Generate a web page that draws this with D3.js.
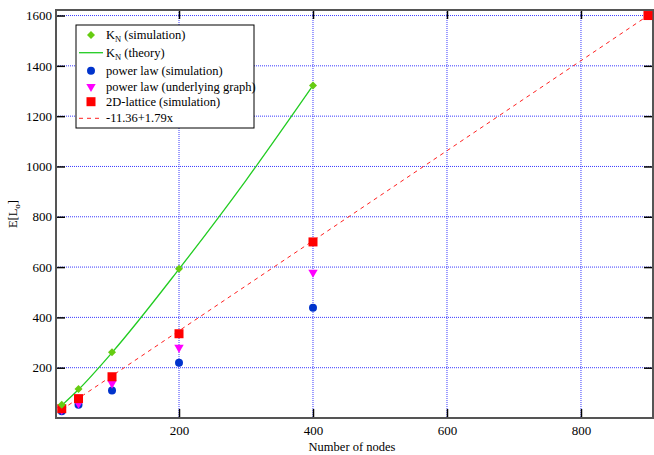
<!DOCTYPE html>
<html><head><meta charset="utf-8">
<script src="https://cdn.jsdelivr.net/npm/d3@7"></script>
<style>body{margin:0;background:#fff}svg{display:block}svg text{font-family:"Liberation Serif","Times New Roman",serif !important}</style>
</head><body><svg id="c" width="654" height="455"></svg>
<script>
const xTicks = [200, 400, 600, 800];
const yTicks = [200, 400, 600, 800, 1000, 1200, 1400, 1600];
const knX = [25, 50, 100, 200, 400];
const knSim = [53, 115, 261, 593, 1322];
const theoryX = [25, 50, 100, 200, 300, 400];
const theoryY = [50, 113, 260, 592, 945, 1322];
const plX = [25, 50, 100, 200, 400];
const plSim = [27, 53, 109, 220, 438];
const plGraph = [33, 58, 138, 280, 579];
const latX = [25, 50, 100, 200, 400, 900];
const latSim = [37, 77, 164, 335, 700, 1600];
const fitX = [25, 900];
const fitY = [33.39, 1599.64];

const FONT = "Liberation Serif, serif";
const svg = d3.select("#c");
const L = 56, R = 653, T = 10, B = 418;
const x = d3.scaleLinear().domain([16.4, 907.5]).range([L, R]);
const y = d3.scaleLinear().domain([0, 1622]).range([B, T]);

// grid
const g = svg.append("g");
g.selectAll(".gx").data(xTicks).join("line").attr("x1", d => x(d)).attr("x2", d => x(d))
  .attr("y1", T).attr("y2", B).attr("stroke", "#3a3aff").attr("stroke-width", 1).attr("stroke-dasharray", "1,1");
g.selectAll(".gy").data(yTicks).join("line").attr("y1", d => y(d)).attr("y2", d => y(d))
  .attr("x1", L).attr("x2", R).attr("stroke", "#3a3aff").attr("stroke-width", 1).attr("stroke-dasharray", "1,1");

// axes with inward ticks
const axB = d3.axisBottom(x).tickValues(xTicks).tickSize(-9).tickPadding(8).tickFormat(d3.format("d"));
const axT = d3.axisTop(x).tickValues(xTicks).tickSize(-9).tickFormat("");
const axL = d3.axisLeft(y).tickValues(yTicks).tickSize(-9).tickPadding(4).tickFormat(d3.format("d"));
const axR = d3.axisRight(y).tickValues(yTicks).tickSize(-9).tickFormat("");
function style(sel){ sel.attr("font-family", FONT); sel.select(".domain").remove(); sel.selectAll(".tick line").attr("stroke","#000").attr("stroke-width",1.5);
  sel.selectAll(".tick text").attr("font-size",13).attr("fill","#000"); }
svg.append("g").attr("transform",`translate(0,${B})`).call(axB).call(style);
svg.append("g").attr("transform",`translate(0,${T})`).call(axT).call(style);
svg.append("g").attr("transform",`translate(${L},0)`).call(axL).call(style);
svg.append("g").attr("transform",`translate(${R},0)`).call(axR).call(style);

// frame
svg.append("rect").attr("x", L).attr("y", T).attr("width", R - L).attr("height", B - T)
  .attr("fill", "none").attr("stroke", "#555").attr("stroke-width", 2);

// lines
const line = d3.line().x(d => x(d[0])).y(d => y(d[1]));
svg.append("path").datum(fitX.map((v,i)=>[v,fitY[i]])).attr("d", line).attr("fill","none")
  .attr("stroke","#ff2020").attr("stroke-width",1).attr("stroke-dasharray","4,4");
svg.append("path").datum(theoryX.map((v,i)=>[v,theoryY[i]])).attr("d", d3.line().curve(d3.curveMonotoneX).x(d=>x(d[0])).y(d=>y(d[1])))
  .attr("fill","none").attr("stroke","#22cc22").attr("stroke-width",1.3);

// markers
const cBlue = "#0033cc", cMag = "#ff00ff", cRed = "#ff0000", cGreen = "#66cc11";
svg.append("g").selectAll("circle").data(plX).join("circle").attr("cx", d => x(d)).attr("cy", (d,i) => y(plSim[i]))
  .attr("r", 4).attr("fill", cBlue);
const tri = d3.symbol().type(d3.symbolTriangle).size(38)();
svg.append("g").selectAll("path").data(plX).join("path").attr("d", tri)
  .attr("transform", (d,i) => `translate(${x(d)},${y(plGraph[i])}) rotate(180)`).attr("fill", cMag);
svg.append("g").selectAll("rect").data(latX).join("rect").attr("x", d => x(d) - 4.5).attr("y", (d,i) => y(latSim[i]) - 4.5)
  .attr("width", 9).attr("height", 9).attr("fill", cRed);
const dia = d3.symbol().type(d3.symbolSquare).size(32)();
svg.append("g").selectAll("path").data(knX).join("path").attr("d", dia)
  .attr("transform", (d,i) => `translate(${x(d)},${y(knSim[i])}) rotate(45)`).attr("fill", cGreen);

// axis labels
svg.append("text").attr("x", 352).attr("y", 451).attr("text-anchor","middle").attr("font-family",FONT).attr("font-size",12.5).text("Number of nodes");
const yl = svg.append("text").attr("transform","translate(17,214) rotate(-90)").attr("text-anchor","middle").attr("font-family",FONT).attr("font-size",12.5);
yl.append("tspan").text("E[L");
yl.append("tspan").attr("dy",3).attr("font-size",9).text("o");
yl.append("tspan").attr("dy",-3).text("]");

// legend
const lg = svg.append("g").attr("font-family", FONT);
lg.append("rect").attr("x",76).attr("y",25).attr("width",178).attr("height",103).attr("fill","#fff").attr("stroke","#000").attr("stroke-width",1);
const rows = [35, 52.7, 70.7, 86.7, 101.7, 118.3];
const sx = 91, tx = 106;
lg.append("path").attr("d", dia).attr("transform",`translate(${sx},${rows[0]}) rotate(45)`).attr("fill",cGreen);
lg.append("line").attr("x1",79).attr("x2",103).attr("y1",rows[1]).attr("y2",rows[1]).attr("stroke","#22cc22").attr("stroke-width",1.3);
lg.append("circle").attr("cx",sx).attr("cy",rows[2]).attr("r",4).attr("fill",cBlue);
lg.append("path").attr("d", tri).attr("transform",`translate(${sx},${rows[3]}) rotate(180)`).attr("fill",cMag);
lg.append("rect").attr("x",sx-4.5).attr("y",rows[4]-4.5).attr("width",9).attr("height",9).attr("fill",cRed);
lg.append("line").attr("x1",79).attr("x2",103).attr("y1",rows[5]).attr("y2",rows[5]).attr("stroke","#ff2020").attr("stroke-dasharray","4,4");
const labels = [["K","N"," (simulation)"],["K","N"," (theory)"],["power law (simulation)"],["power law (underlying graph)"],["2D-lattice (simulation)"],["-11.36+1.79x"]];
labels.forEach((l,i)=>{
  const t = lg.append("text").attr("x",tx).attr("y",rows[i]+4).attr("font-size",12.5);
  if (l.length===3){ t.append("tspan").text(l[0]); t.append("tspan").attr("dy",3).attr("font-size",8.5).text(l[1]); t.append("tspan").attr("dy",-3).text(l[2]); }
  else t.text(l[0]);
});
</script></body></html>
